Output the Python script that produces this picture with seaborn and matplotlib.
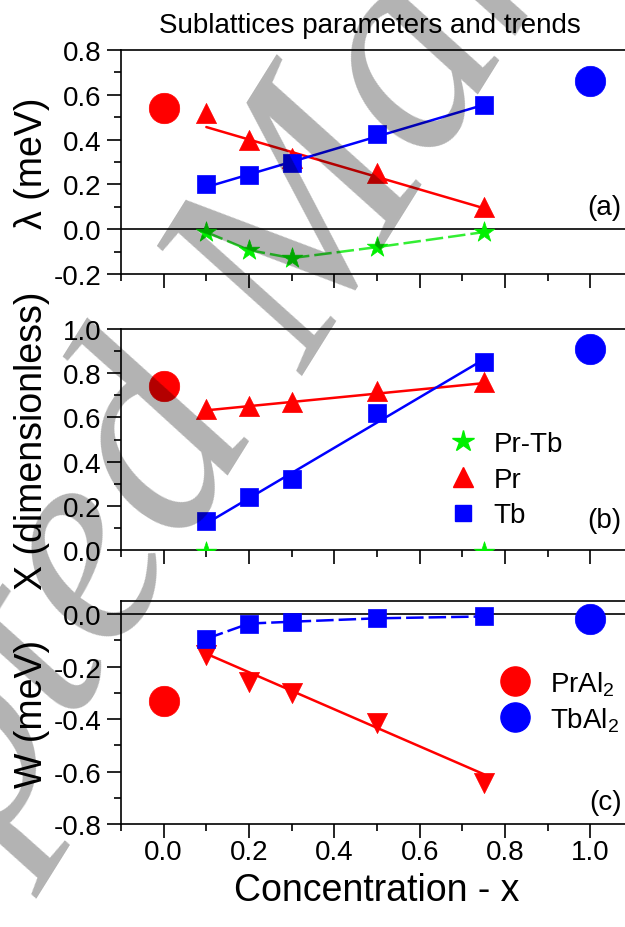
import numpy as np
import pandas as pd
import matplotlib
matplotlib.use("Agg")
import matplotlib.pyplot as plt
import seaborn as sns
from matplotlib.ticker import MultipleLocator
from matplotlib.lines import Line2D

sns.set_style("ticks")
plt.rcParams['font.family'] = ['Liberation Sans', 'DejaVu Sans']
plt.rcParams['mathtext.fontset'] = 'custom'
plt.rcParams['mathtext.rm'] = 'Liberation Sans'
plt.rcParams['axes.unicode_minus'] = False
for k in ['text.color', 'axes.labelcolor', 'xtick.color', 'ytick.color', 'axes.edgecolor']:
    plt.rcParams[k] = 'black'

# ---------------- data ----------------
conc = [0.1, 0.2, 0.3, 0.5, 0.75]
fit_x = [0.1, 0.75]
pure_x = [0.0, 1.0]

# (a) lambda (meV)
lam_prtb = [-0.013, -0.093, -0.129, -0.080, -0.013]
lam_pr = [0.52, 0.40, 0.32, 0.25, 0.10]
lam_tb = [0.20, 0.24, 0.295, 0.425, 0.555]
lam_pr_fit = [0.456, 0.094]
lam_tb_fit = [0.188, 0.555]
lam_pure = [0.54, 0.66]

# (b) X (dimensionless)
xx_prtb_x = [0.1, 0.75]
xx_prtb = [-0.01, -0.01]
xx_pr = [0.64, 0.65, 0.67, 0.72, 0.76]
xx_tb = [0.13, 0.24, 0.32, 0.62, 0.85]
xx_pr_fit = [0.632, 0.755]
xx_tb_fit = [0.12, 0.862]
xx_pure = [0.74, 0.91]

# (c) W (meV)
w_pr = [-0.157, -0.257, -0.30, -0.415, -0.645]
w_tb = [-0.094, -0.036, -0.029, -0.016, -0.009]
w_pr_fit = [-0.151, -0.61]
w_pure = [-0.33, -0.02]

RED = '#ff0000'
BLUE = '#0000ff'
GREEN = '#00f000'
LGREEN = '#33ee33'

fig = plt.figure(figsize=(6.25, 9.28), dpi=100)
L, W = 121 / 625, 512 / 625
ax_a = fig.add_axes([L, (928 - 275) / 928, W, 224 / 928])
ax_b = fig.add_axes([L, (928 - 551) / 928, W, 221 / 928])
ax_c = fig.add_axes([L, (928 - 825) / 928, W, 223 / 928])

TICK_FS = 20
LAB_FS = 27


def style_axis(ax, ylim, ymaj, ymin_):
    ax.set_xlim(-0.1, 1.1)
    ax.set_ylim(*ylim)
    ax.xaxis.set_major_locator(MultipleLocator(0.2))
    ax.xaxis.set_minor_locator(MultipleLocator(0.1))
    ax.yaxis.set_major_locator(MultipleLocator(ymaj))
    ax.yaxis.set_minor_locator(MultipleLocator(ymin_))
    ax.tick_params(which='major', direction='out', length=10, width=1.2,
                   labelsize=TICK_FS, color='black', pad=4)
    ax.tick_params(which='minor', direction='out', length=5, width=1.2, color='black')
    ax.tick_params(axis='x', which='major', pad=1)
    for s in ax.spines.values():
        s.set_linewidth(1.2)
        s.set_color('black')
    ax.set_facecolor('none')


def fit_line(ax, x, y, color, dashes=None):
    df = pd.DataFrame({'x': x, 'y': y})
    sns.lineplot(data=df, x='x', y='y', ax=ax, color=color, lw=1.8,
                 sort=False, estimator=None, legend=False, zorder=3)
    if dashes is not None:
        ax.lines[-1].set_dashes(dashes)


def pts(ax, x, y, color, marker, s, clip=True):
    df = pd.DataFrame({'x': x, 'y': y})
    sns.scatterplot(data=df, x='x', y='y', ax=ax, color=color, marker=marker,
                    s=s, edgecolor=color, linewidth=0.5, legend=False, zorder=4,
                    clip_on=clip)

# ---- panel (a)
ax = ax_a
ax.axhline(0, color='black', lw=1.2, zorder=2)
fit_line(ax, conc, lam_prtb, LGREEN, dashes=(7, 2))
fit_line(ax, fit_x, lam_pr_fit, RED)
fit_line(ax, fit_x, lam_tb_fit, BLUE)
pts(ax, conc, lam_prtb, GREEN, '*', 240)
pts(ax, conc, lam_pr, RED, '^', 210)
pts(ax, conc, lam_tb, BLUE, 's', 150)
pts(ax, [pure_x[0]], [lam_pure[0]], RED, 'o', 480, clip=False)
pts(ax, [pure_x[1]], [lam_pure[1]], BLUE, 'o', 480, clip=False)
style_axis(ax, (-0.2, 0.8), 0.2, 0.1)
ax.set_xticklabels([])
ax.set_xlabel('')
ax.set_ylabel('λ (meV)', fontsize=LAB_FS)
ax.yaxis.set_label_coords(-0.139, 0.5)
ax.text(0.978, 0.30, '(a)', transform=ax.transAxes, ha='right', va='center', fontsize=TICK_FS)

# ---- panel (b)
ax = ax_b
fit_line(ax, fit_x, xx_pr_fit, RED)
fit_line(ax, fit_x, xx_tb_fit, BLUE)
pts(ax, xx_prtb_x, xx_prtb, GREEN, '*', 240)
pts(ax, conc, xx_pr, RED, '^', 210)
pts(ax, conc, xx_tb, BLUE, 's', 150)
pts(ax, [pure_x[0]], [xx_pure[0]], RED, 'o', 480, clip=False)
pts(ax, [pure_x[1]], [xx_pure[1]], BLUE, 'o', 480, clip=False)
style_axis(ax, (0.0, 1.0), 0.2, 0.1)
ax.set_xticklabels([])
ax.set_xlabel('')
ax.set_ylabel('X (dimensionless)', fontsize=LAB_FS)
ax.yaxis.set_label_coords(-0.139, 0.5)
ax.text(0.978, 0.136, '(b)', transform=ax.transAxes, ha='right', va='center', fontsize=TICK_FS)
hb = [Line2D([], [], ls='none', marker='*', color=GREEN, markersize=16),
      Line2D([], [], ls='none', marker='^', color=RED, markersize=14),
      Line2D([], [], ls='none', marker='s', color=BLUE, markersize=12)]
ax.legend(hb, ['Pr-Tb', 'Pr', 'Tb'], loc='upper left', frameon=False,
          bbox_to_anchor=((449 - 121) / 512, (551 - 432) / 221),
          fontsize=TICK_FS, handlelength=1.0, handletextpad=0.6,
          labelspacing=0.35, borderpad=0, borderaxespad=0)

# ---- panel (c)
ax = ax_c
ax.axhline(0, color='black', lw=1.2, zorder=2)
fit_line(ax, conc, w_tb, BLUE, dashes=(7, 2))
fit_line(ax, fit_x, w_pr_fit, RED)
pts(ax, conc, w_pr, RED, 'v', 210)
pts(ax, conc, w_tb, BLUE, 's', 150)
pts(ax, [pure_x[0]], [w_pure[0]], RED, 'o', 480, clip=False)
pts(ax, [pure_x[1]], [w_pure[1]], BLUE, 'o', 480, clip=False)
style_axis(ax, (-0.8, 0.05), 0.2, 0.1)
ax.set_ylabel('W (meV)', fontsize=LAB_FS)
ax.yaxis.set_label_coords(-0.139, 0.5)
ax.set_xlabel('Concentration - x', fontsize=LAB_FS)
ax.xaxis.set_label_coords(0.5, -0.215)
ax.text(0.978, 0.10, '(c)', transform=ax.transAxes, ha='right', va='center', fontsize=TICK_FS)
hc = [Line2D([], [], ls='none', marker='o', color=RED, markersize=21),
      Line2D([], [], ls='none', marker='o', color=BLUE, markersize=21)]
ax.legend(hc, [r'PrAl$_2$', r'TbAl$_2$'], loc='upper left', frameon=False,
          bbox_to_anchor=((501 - 121) / 512, (825 - 670) / 223),
          fontsize=TICK_FS, handlelength=1.0, handletextpad=0.75,
          labelspacing=0.25, borderpad=0, borderaxespad=0)

fig.text(370 / 625, 1 - 26 / 928, 'Sublattices parameters and trends',
         ha='center', va='center', fontsize=TICK_FS)

# watermark
wm_kw = dict(fontsize=210, family='Liberation Serif', style='italic', color='black',
             alpha=0.3, rotation=58, rotation_mode='anchor', va='baseline', zorder=10)
fig.text(306 / 625, 1 - 376 / 928, 'Accepted ', ha='right', **wm_kw)
fig.text(306 / 625, 1 - 376 / 928, 'Manuscript', ha='left', **wm_kw)

fig.savefig('out.png', dpi=100)
